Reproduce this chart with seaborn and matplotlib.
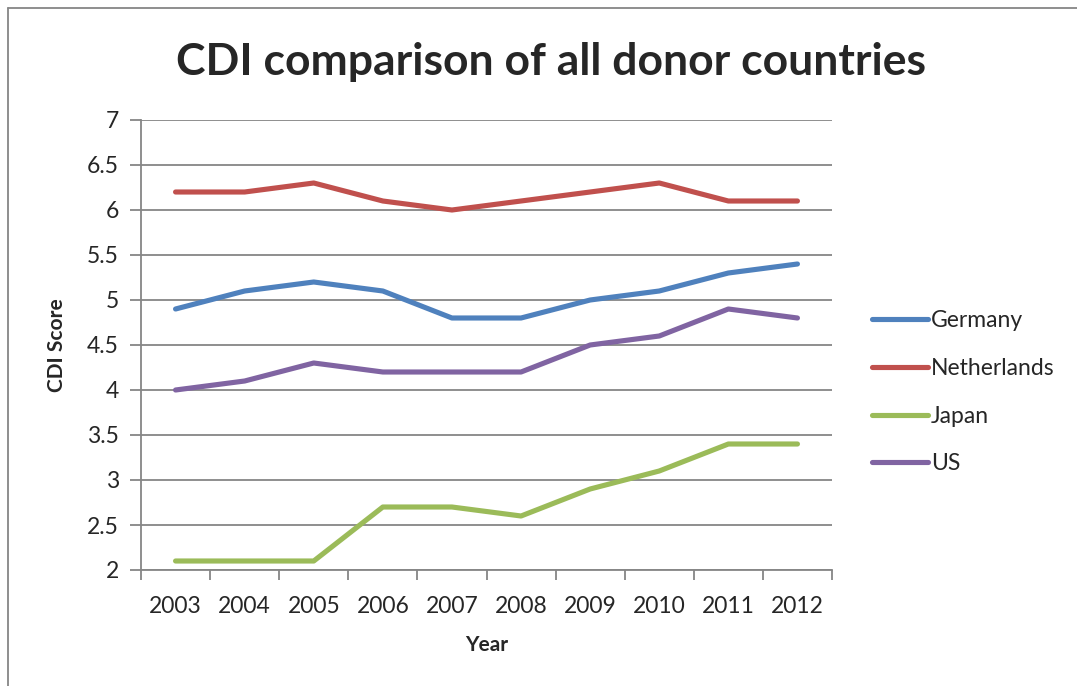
import matplotlib
matplotlib.use("Agg")
import matplotlib.pyplot as plt
import seaborn as sns
import pandas as pd
from matplotlib.lines import Line2D
from matplotlib.ticker import FixedLocator, NullFormatter

years = [2003, 2004, 2005, 2006, 2007, 2008, 2009, 2010, 2011, 2012]
germany = [4.9, 5.1, 5.2, 5.1, 4.8, 4.8, 5.0, 5.1, 5.3, 5.4]
netherlands = [6.2, 6.2, 6.3, 6.1, 6.0, 6.1, 6.2, 6.3, 6.1, 6.1]
japan = [2.1, 2.1, 2.1, 2.7, 2.7, 2.6, 2.9, 3.1, 3.4, 3.4]
us = [4.0, 4.1, 4.3, 4.2, 4.2, 4.2, 4.5, 4.6, 4.9, 4.8]
countries = ["Germany", "Netherlands", "Japan", "US"]
y_ticks = [2, 2.5, 3, 3.5, 4, 4.5, 5, 5.5, 6, 6.5, 7]

rows = []
for name, vals in zip(countries, [germany, netherlands, japan, us]):
    for yr, v in zip(years, vals):
        rows.append({"Year": yr, "CDI Score": v, "Country": name})
df = pd.DataFrame(rows)

sns.set_style("white")
plt.rcParams["font.family"] = ["Lato", "DejaVu Sans"]

fig = plt.figure(figsize=(10.77, 6.86), dpi=100)
ax = fig.add_axes([141 / 1077, 1 - 570 / 686, (832 - 141) / 1077, (570 - 120) / 686])

palette = {"Germany": "#4F81BD", "Netherlands": "#C0504D", "Japan": "#9BBB59", "US": "#8064A2"}
lw = 3.7
sns.lineplot(data=df, x="Year", y="CDI Score", hue="Country", palette=palette,
             linewidth=lw, ax=ax, legend=True, solid_capstyle="round")

grid_c = "#868686"
ax.set_xlim(years[0] - 0.5, years[-1] + 0.5)
ax.set_ylim(2, 7)
ax.set_yticks(y_ticks)
ax.set_yticklabels([f"{t:g}" for t in y_ticks], fontsize=16.5)
ax.yaxis.grid(True, color=grid_c, linewidth=1.3)
ax.set_axisbelow(True)

bounds = [y - 0.5 for y in years] + [years[-1] + 0.5]
ax.xaxis.set_major_locator(FixedLocator(bounds))
ax.xaxis.set_major_formatter(NullFormatter())
ax.xaxis.set_minor_locator(FixedLocator(years))
ax.set_xticklabels([str(y) for y in years], minor=True, fontsize=16.5)
ax.tick_params(axis="x", which="major", length=7, width=1.3, color=grid_c, direction="out", bottom=True)
ax.tick_params(axis="x", which="minor", length=0, pad=19, bottom=True)
ax.tick_params(axis="y", which="major", length=8, width=1.3, color=grid_c, direction="out", left=True, pad=8)

for s in ["top", "right"]:
    ax.spines[s].set_visible(False)
for s in ["left", "bottom"]:
    ax.spines[s].set_color(grid_c)
    ax.spines[s].set_linewidth(1.3)

ax.set_xlabel("Year", fontsize=15, fontweight="bold", labelpad=13)
ax.set_ylabel("CDI Score", fontsize=15, fontweight="bold", labelpad=14)

fig.suptitle("CDI comparison of all donor countries", x=551 / 1077, y=1 - 62 / 686,
             va="center", fontsize=32, fontweight="bold")

leg = ax.legend(loc="center left", bbox_to_anchor=(1.044, 0.395), frameon=False,
                fontsize=16.5, handlelength=2.45, handletextpad=0.15, labelspacing=1.17,
                borderaxespad=0)
for h in leg.get_lines():
    h.set_linewidth(lw)

fig.add_artist(Line2D([8 / 1077, 1], [1 - 8 / 686, 1 - 8 / 686], color="#868686", linewidth=1.3))
fig.add_artist(Line2D([8 / 1077, 8 / 1077], [0, 1 - 8 / 686], color="#868686", linewidth=1.3))

fig.savefig("out.png", dpi=100)
